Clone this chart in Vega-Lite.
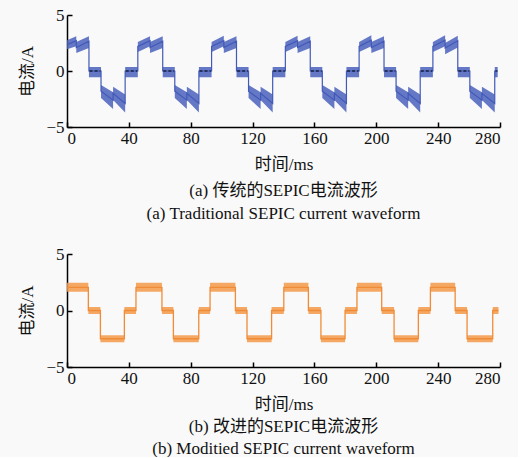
{
  "$schema": "https://vega.github.io/schema/vega-lite/v6.json",
  "background": "#f9f9f9",
  "padding": {"left": 18, "top": 6, "right": 16, "bottom": 0},
  "config": {
    "font": "Liberation Serif, Noto Sans CJK SC",
    "view": {"stroke": null},
    "concat": {"spacing": 23},
    "axis": {
      "domainColor": "#000", "domainWidth": 1.5, "tickColor": "#000", "tickWidth": 1.5, "tickSize": -5,
      "grid": false, "labelFont": "Liberation Serif", "labelFontSize": 17, "labelColor": "#111",
      "titleFont": "Liberation Serif, Noto Sans CJK SC", "titleFontSize": 17, "titleFontWeight": "normal", "titleColor": "#111"
    },
    "title": {"font": "Liberation Serif, Noto Sans CJK SC", "fontSize": 17, "fontWeight": "normal", "color": "#111", "subtitleFont": "Liberation Serif, Noto Sans CJK SC", "subtitleFontSize": 17, "subtitleColor": "#111"}
  },
  "datasets": {
    "a": [
      {"i":0,"t":0,"lo":1.95,"hi":2.75,"m":2.35},
      {"i":1,"t":6.0,"lo":2.2,"hi":3.1,"m":2.7},
      {"i":2,"t":6.0,"lo":1.6,"hi":2.6,"m":2.1},
      {"i":3,"t":14.2,"lo":2.05,"hi":3.1,"m":2.65},
      {"i":4,"t":14.2,"lo":-0.55,"hi":0.35,"m":0},
      {"i":5,"t":22.0,"lo":-0.55,"hi":0.35,"m":0},
      {"i":6,"t":22.0,"lo":-2.4,"hi":-1.25,"m":-1.8},
      {"i":7,"t":29.8,"lo":-3.4,"hi":-1.9,"m":-2.6},
      {"i":8,"t":29.8,"lo":-2.6,"hi":-1.4,"m":-2.0},
      {"i":9,"t":37.6,"lo":-3.7,"hi":-2.1,"m":-2.9},
      {"i":10,"t":37.6,"lo":-0.55,"hi":0.35,"m":0},
      {"i":11,"t":45.8,"lo":-0.55,"hi":0.35,"m":0},
      {"i":12,"t":45.8,"lo":1.7,"hi":2.6,"m":2.2},
      {"i":13,"t":53.7,"lo":2.2,"hi":3.1,"m":2.7},
      {"i":14,"t":53.7,"lo":1.6,"hi":2.6,"m":2.1},
      {"i":15,"t":61.9,"lo":2.05,"hi":3.1,"m":2.65},
      {"i":16,"t":61.9,"lo":-0.55,"hi":0.35,"m":0},
      {"i":17,"t":69.7,"lo":-0.55,"hi":0.35,"m":0},
      {"i":18,"t":69.7,"lo":-2.4,"hi":-1.25,"m":-1.8},
      {"i":19,"t":77.5,"lo":-3.4,"hi":-1.9,"m":-2.6},
      {"i":20,"t":77.5,"lo":-2.6,"hi":-1.4,"m":-2.0},
      {"i":21,"t":85.3,"lo":-3.7,"hi":-2.1,"m":-2.9},
      {"i":22,"t":85.3,"lo":-0.55,"hi":0.35,"m":0},
      {"i":23,"t":93.5,"lo":-0.55,"hi":0.35,"m":0},
      {"i":24,"t":93.5,"lo":1.7,"hi":2.6,"m":2.2},
      {"i":25,"t":101.4,"lo":2.2,"hi":3.15,"m":2.7},
      {"i":26,"t":101.4,"lo":1.6,"hi":2.6,"m":2.1},
      {"i":27,"t":109.6,"lo":2.05,"hi":3.1,"m":2.65},
      {"i":28,"t":109.6,"lo":-0.55,"hi":0.35,"m":0},
      {"i":29,"t":117.4,"lo":-0.55,"hi":0.35,"m":0},
      {"i":30,"t":117.4,"lo":-2.4,"hi":-1.25,"m":-1.8},
      {"i":31,"t":125.2,"lo":-3.4,"hi":-1.9,"m":-2.6},
      {"i":32,"t":125.2,"lo":-2.6,"hi":-1.4,"m":-2.0},
      {"i":33,"t":133.0,"lo":-3.7,"hi":-2.1,"m":-2.9},
      {"i":34,"t":133.0,"lo":-0.55,"hi":0.35,"m":0},
      {"i":35,"t":141.2,"lo":-0.55,"hi":0.35,"m":0},
      {"i":36,"t":141.2,"lo":1.7,"hi":2.6,"m":2.2},
      {"i":37,"t":149.1,"lo":2.2,"hi":3.15,"m":2.7},
      {"i":38,"t":149.1,"lo":1.6,"hi":2.6,"m":2.1},
      {"i":39,"t":157.3,"lo":2.05,"hi":3.1,"m":2.65},
      {"i":40,"t":157.3,"lo":-0.55,"hi":0.35,"m":0},
      {"i":41,"t":165.1,"lo":-0.55,"hi":0.35,"m":0},
      {"i":42,"t":165.1,"lo":-2.4,"hi":-1.25,"m":-1.8},
      {"i":43,"t":172.9,"lo":-3.4,"hi":-1.9,"m":-2.6},
      {"i":44,"t":172.9,"lo":-2.6,"hi":-1.4,"m":-2.0},
      {"i":45,"t":180.7,"lo":-3.7,"hi":-2.1,"m":-2.9},
      {"i":46,"t":180.7,"lo":-0.55,"hi":0.35,"m":0},
      {"i":47,"t":188.9,"lo":-0.55,"hi":0.35,"m":0},
      {"i":48,"t":188.9,"lo":1.7,"hi":2.6,"m":2.2},
      {"i":49,"t":196.8,"lo":2.2,"hi":3.2,"m":2.75},
      {"i":50,"t":196.8,"lo":1.6,"hi":2.6,"m":2.1},
      {"i":51,"t":205.0,"lo":2.05,"hi":3.1,"m":2.65},
      {"i":52,"t":205.0,"lo":-0.55,"hi":0.35,"m":0},
      {"i":53,"t":212.8,"lo":-0.55,"hi":0.35,"m":0},
      {"i":54,"t":212.8,"lo":-2.4,"hi":-1.25,"m":-1.8},
      {"i":55,"t":220.6,"lo":-3.4,"hi":-1.9,"m":-2.6},
      {"i":56,"t":220.6,"lo":-2.6,"hi":-1.4,"m":-2.0},
      {"i":57,"t":228.4,"lo":-3.7,"hi":-2.1,"m":-2.9},
      {"i":58,"t":228.4,"lo":-0.55,"hi":0.35,"m":0},
      {"i":59,"t":236.6,"lo":-0.55,"hi":0.35,"m":0},
      {"i":60,"t":236.6,"lo":1.7,"hi":2.6,"m":2.2},
      {"i":61,"t":244.5,"lo":2.2,"hi":3.2,"m":2.75},
      {"i":62,"t":244.5,"lo":1.5,"hi":2.5,"m":2.05},
      {"i":63,"t":252.7,"lo":2.1,"hi":3.15,"m":2.7},
      {"i":64,"t":252.7,"lo":-0.55,"hi":0.35,"m":0},
      {"i":65,"t":260.5,"lo":-0.55,"hi":0.35,"m":0},
      {"i":66,"t":260.5,"lo":-2.4,"hi":-1.25,"m":-1.8},
      {"i":67,"t":268.3,"lo":-3.4,"hi":-1.9,"m":-2.6},
      {"i":68,"t":268.3,"lo":-2.6,"hi":-1.4,"m":-2.0},
      {"i":69,"t":276.6,"lo":-3.7,"hi":-2.1,"m":-2.9},
      {"i":70,"t":276.6,"lo":-0.55,"hi":0.35,"m":0},
      {"i":71,"t":278.5,"lo":-0.55,"hi":0.35,"m":0}
    ],
    "z": [
      {"s":1,"t":14.6,"v":0},{"s":1,"t":21.6,"v":0},
      {"s":2,"t":38.0,"v":0},{"s":2,"t":45.4,"v":0},
      {"s":3,"t":62.3,"v":0},{"s":3,"t":69.3,"v":0},
      {"s":4,"t":85.7,"v":0},{"s":4,"t":93.1,"v":0},
      {"s":5,"t":110.0,"v":0},{"s":5,"t":117.0,"v":0},
      {"s":6,"t":133.4,"v":0},{"s":6,"t":140.8,"v":0},
      {"s":7,"t":157.7,"v":0},{"s":7,"t":164.7,"v":0},
      {"s":8,"t":181.1,"v":0},{"s":8,"t":188.5,"v":0},
      {"s":9,"t":205.4,"v":0},{"s":9,"t":212.4,"v":0},
      {"s":10,"t":228.8,"v":0},{"s":10,"t":236.2,"v":0},
      {"s":11,"t":253.1,"v":0},{"s":11,"t":260.1,"v":0},
      {"s":12,"t":277.0,"v":0},{"s":12,"t":278.3,"v":0}
    ],
    "b": [
      {"i":0,"t":0,"lo":1.65,"hi":2.45,"m":2.05},
      {"i":1,"t":13.8,"lo":1.65,"hi":2.45,"m":2.05},
      {"i":2,"t":13.8,"lo":-0.3,"hi":0.3,"m":0},
      {"i":3,"t":21.6,"lo":-0.3,"hi":0.3,"m":0},
      {"i":4,"t":21.6,"lo":-2.8,"hi":-2.2,"m":-2.5},
      {"i":5,"t":37.1,"lo":-2.8,"hi":-2.2,"m":-2.5},
      {"i":6,"t":37.1,"lo":-0.3,"hi":0.3,"m":0},
      {"i":7,"t":44.6,"lo":-0.3,"hi":0.3,"m":0},
      {"i":8,"t":44.6,"lo":1.65,"hi":2.45,"m":2.05},
      {"i":9,"t":61.4,"lo":1.65,"hi":2.45,"m":2.05},
      {"i":10,"t":61.4,"lo":-0.3,"hi":0.3,"m":0},
      {"i":11,"t":68.8,"lo":-0.3,"hi":0.3,"m":0},
      {"i":12,"t":68.8,"lo":-2.8,"hi":-2.2,"m":-2.5},
      {"i":13,"t":85.2,"lo":-2.8,"hi":-2.2,"m":-2.5},
      {"i":14,"t":85.2,"lo":-0.3,"hi":0.3,"m":0},
      {"i":15,"t":92.5,"lo":-0.3,"hi":0.3,"m":0},
      {"i":16,"t":92.5,"lo":1.65,"hi":2.45,"m":2.05},
      {"i":17,"t":108.9,"lo":1.65,"hi":2.45,"m":2.05},
      {"i":18,"t":108.9,"lo":-0.3,"hi":0.3,"m":0},
      {"i":19,"t":116.4,"lo":-0.3,"hi":0.3,"m":0},
      {"i":20,"t":116.4,"lo":-2.8,"hi":-2.2,"m":-2.5},
      {"i":21,"t":132.3,"lo":-2.8,"hi":-2.2,"m":-2.5},
      {"i":22,"t":132.3,"lo":-0.3,"hi":0.3,"m":0},
      {"i":23,"t":140.2,"lo":-0.3,"hi":0.3,"m":0},
      {"i":24,"t":140.2,"lo":1.65,"hi":2.45,"m":2.05},
      {"i":25,"t":156.1,"lo":1.65,"hi":2.45,"m":2.05},
      {"i":26,"t":156.1,"lo":-0.3,"hi":0.3,"m":0},
      {"i":27,"t":164.2,"lo":-0.3,"hi":0.3,"m":0},
      {"i":28,"t":164.2,"lo":-2.8,"hi":-2.2,"m":-2.5},
      {"i":29,"t":179.8,"lo":-2.8,"hi":-2.2,"m":-2.5},
      {"i":30,"t":179.8,"lo":-0.3,"hi":0.3,"m":0},
      {"i":31,"t":187.5,"lo":-0.3,"hi":0.3,"m":0},
      {"i":32,"t":187.5,"lo":1.65,"hi":2.45,"m":2.05},
      {"i":33,"t":203.5,"lo":1.65,"hi":2.45,"m":2.05},
      {"i":34,"t":203.5,"lo":-0.3,"hi":0.3,"m":0},
      {"i":35,"t":211.5,"lo":-0.3,"hi":0.3,"m":0},
      {"i":36,"t":211.5,"lo":-2.8,"hi":-2.2,"m":-2.5},
      {"i":37,"t":227.2,"lo":-2.8,"hi":-2.2,"m":-2.5},
      {"i":38,"t":227.2,"lo":-0.3,"hi":0.3,"m":0},
      {"i":39,"t":235.0,"lo":-0.3,"hi":0.3,"m":0},
      {"i":40,"t":235.0,"lo":1.65,"hi":2.45,"m":2.05},
      {"i":41,"t":251.0,"lo":1.65,"hi":2.45,"m":2.05},
      {"i":42,"t":251.0,"lo":-0.3,"hi":0.3,"m":0},
      {"i":43,"t":258.7,"lo":-0.3,"hi":0.3,"m":0},
      {"i":44,"t":258.7,"lo":-2.8,"hi":-2.2,"m":-2.5},
      {"i":45,"t":275.3,"lo":-2.8,"hi":-2.2,"m":-2.5},
      {"i":46,"t":275.3,"lo":-0.3,"hi":0.3,"m":0},
      {"i":47,"t":279.0,"lo":-0.3,"hi":0.3,"m":0}
    ]
  },
  "vconcat": [
    {
      "width": 433, "height": 112,
      "title": {"text": "(a) 传统的SEPIC电流波形", "subtitle": "(a) Traditional SEPIC current waveform", "orient": "bottom", "anchor": "middle", "frame": "group", "offset": 11, "subtitlePadding": 6},
      "encoding": {
        "x": {"field": "t", "type": "quantitative", "scale": {"domain": [0, 280], "nice": false}, "axis": {"values": [0,40,80,120,160,200,240,280], "title": "时间/ms", "labelPadding": 8, "titlePadding": 10}}
      },
      "layer": [
        {"data": {"name": "a"}, "mark": {"type": "area", "color": "#4a61bd", "opacity": 0.85},
         "encoding": {"y": {"field": "lo", "type": "quantitative", "scale": {"domain": [-5, 5], "nice": false}, "axis": {"values": [-5,0,5], "title": "电流/A", "labelPadding": 8, "titlePadding": 9}}, "y2": {"field": "hi"}}},
        {"data": {"name": "a"}, "mark": {"type": "line", "color": "#4259b8", "strokeWidth": 1.2},
         "encoding": {"y": {"field": "m", "type": "quantitative", "title": "电流/A"}, "order": {"field": "i"}}},
        {"data": {"name": "z"}, "mark": {"type": "line", "color": "#1a2240", "strokeWidth": 1.3, "strokeDash": [3, 2]},
         "encoding": {"y": {"field": "v", "type": "quantitative", "title": "电流/A"}, "detail": {"field": "s"}}}
      ]
    },
    {
      "width": 433, "height": 113,
      "title": {"text": "(b) 改进的SEPIC电流波形", "subtitle": "(b) Moditied SEPIC current waveform", "orient": "bottom", "anchor": "middle", "frame": "group", "offset": 7, "subtitlePadding": 5},
      "encoding": {
        "x": {"field": "t", "type": "quantitative", "scale": {"domain": [0, 280], "nice": false}, "axis": {"values": [0,40,80,120,160,200,240,280], "title": "时间/ms", "labelPadding": 8, "titlePadding": 10}}
      },
      "layer": [
        {"data": {"name": "b"}, "mark": {"type": "area", "color": "#f59a4a", "opacity": 0.85},
         "encoding": {"y": {"field": "lo", "type": "quantitative", "scale": {"domain": [-5, 5], "nice": false}, "axis": {"values": [-5,0,5], "title": "电流/A", "labelPadding": 8, "titlePadding": 9}}, "y2": {"field": "hi"}}},
        {"data": {"name": "b"}, "mark": {"type": "line", "color": "#f08c38", "strokeWidth": 1.3},
         "encoding": {"y": {"field": "m", "type": "quantitative", "title": "电流/A"}, "order": {"field": "i"}}}
      ]
    }
  ]
}
